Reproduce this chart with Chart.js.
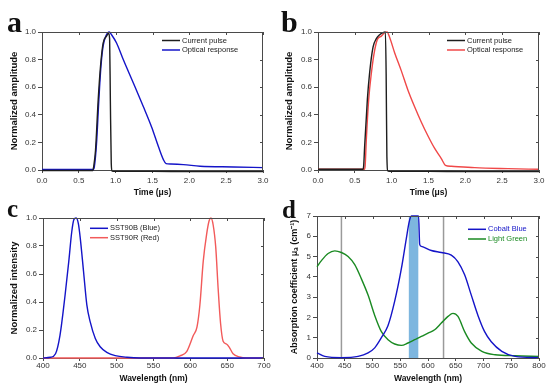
<!DOCTYPE html>
<html>
<head>
<meta charset="utf-8">
<script src="https://cdn.jsdelivr.net/npm/chart.js@4.4.1/dist/chart.umd.min.js"></script>
<style>
  body { margin: 0; background: #fff; }
  #fig { position: relative; width: 550px; height: 390px; overflow: hidden; }
  #fig canvas { position: absolute; }
  .tag { position: absolute; font-family: "Liberation Serif", "DejaVu Serif", serif; font-weight: bold; line-height: 1; color: #111; }
</style>
</head>
<body>
<div id="fig">
  <canvas id="chart-a" width="275" height="200" style="left:0;top:0"></canvas>
  <canvas id="chart-b" width="275" height="200" style="left:275px;top:0"></canvas>
  <canvas id="chart-c" width="275" height="195" style="left:0;top:195px"></canvas>
  <canvas id="chart-d" width="275" height="195" style="left:275px;top:195px"></canvas>
  <div class="tag" style="left:7px;top:7px;font-size:30px">a</div>
  <div class="tag" style="left:281px;top:7px;font-size:30px">b</div>
  <div class="tag" style="left:7px;top:196px;font-size:25px">c</div>
  <div class="tag" style="left:282px;top:197px;font-size:25px">d</div>
</div>
<script>
// panneau a : impulsion de courant / réponse optique (bleu)
const aCurrentT = [0, 0.69, 0.70, 0.726, 0.763, 0.794, 0.83, 0.876, 0.905, 0.918, 0.928, 0.94, 0.95, 1.0, 1.5, 2.0, 2.5, 3.0];
const aCurrentV = [-0.004, -0.004, 0.02, 0.14, 0.51, 0.75, 0.92, 0.97, 0.99, 0.95, 0.5, 0.05, -0.008, -0.01, -0.01, -0.012, -0.012, -0.012];
const aOpticalT = [0, 0.70, 0.71, 0.74, 0.772, 0.80, 0.83, 0.867, 0.912, 0.944, 1.012, 1.103, 1.24, 1.375, 1.489, 1.58, 1.648, 1.684, 1.75, 1.92, 2.147, 2.6, 3.0];
const aOpticalV = [0.004, 0.004, 0.02, 0.19, 0.51, 0.75, 0.9, 0.97, 1.0, 0.98, 0.92, 0.80, 0.63, 0.46, 0.31, 0.17, 0.075, 0.046, 0.043, 0.039, 0.027, 0.022, 0.017];

// panneau b : impulsion de courant / réponse optique (rouge)
const bCurrentT = [0, 0.61, 0.62, 0.633, 0.67, 0.70, 0.747, 0.79, 0.837, 0.882, 0.915, 0.925, 0.935, 0.95, 1.0, 1.5, 2.0, 2.5, 3.0];
const bCurrentV = [0.005, 0.005, 0.03, 0.17, 0.51, 0.70, 0.89, 0.95, 0.98, 0.995, 1.0, 0.7, 0.1, -0.008, -0.01, -0.01, -0.012, -0.012, -0.012];
const bOpticalT = [0, 0.63, 0.64, 0.656, 0.688, 0.724, 0.77, 0.81, 0.86, 0.905, 0.937, 0.973, 1.04, 1.13, 1.22, 1.31, 1.40, 1.49, 1.584, 1.674, 1.73, 1.81, 2.127, 2.58, 3.0];
const bOpticalV = [0.005, 0.005, 0.03, 0.22, 0.51, 0.70, 0.87, 0.95, 0.97, 0.995, 1.0, 0.96, 0.85, 0.72, 0.58, 0.46, 0.35, 0.25, 0.156, 0.083, 0.034, 0.027, 0.017, 0.01, 0.005];
const timeTicks = [0, 0.5, 1.0, 1.5, 2.0, 2.5, 3.0];
const amplitudeTicks = [0, 0.2, 0.4, 0.6, 0.8, 1.0];

// panneau c : spectres d'émission
const cBlueW = [400, 410, 417, 423, 430, 435, 439, 442, 445, 448, 450.5, 455, 459.5, 464, 471, 477.6, 486.6, 498, 514, 532, 600, 700];
const cBlueV = [0, 0.005, 0.03, 0.16, 0.45, 0.69, 0.9, 0.99, 1.0, 0.96, 0.86, 0.62, 0.38, 0.26, 0.14, 0.08, 0.04, 0.017, 0.005, 0, 0, 0];
const cRedW = [400, 577, 586, 595, 604, 609, 613, 617.5, 622, 625.5, 628, 631, 634.5, 637.7, 641, 644.5, 649, 652.5, 658, 667, 676, 700];
const cRedV = [0, 0, 0.015, 0.045, 0.16, 0.22, 0.38, 0.69, 0.88, 0.98, 1.0, 0.95, 0.79, 0.5, 0.25, 0.12, 0.1, 0.08, 0.03, 0.007, 0, 0];
const wavelengthTicksC = [400, 450, 500, 550, 600, 650, 700];

// panneau d : coefficients d'absorption
const dBlueW = [400, 414, 444, 474, 492, 504, 516, 528, 540, 552, 561, 566, 570, 583, 585, 588, 606, 624, 642, 654, 666, 678, 690, 702, 714, 733, 757, 800];
const dBlueV = [0.25, 0.08, 0.02, 0.08, 0.25, 0.5, 1.0, 1.6, 2.8, 4.4, 5.9, 6.7, 7, 7, 5.6, 5.5, 5.3, 5.2, 5.07, 4.74, 4.1, 3.1, 2.1, 1.3, 0.8, 0.33, 0.08, 0.02];
const dGreenW = [400, 408, 420, 432, 444, 456, 468, 480, 492, 504, 516, 528, 540, 552, 564, 576, 588, 600, 612, 624, 636, 645, 654, 666, 678, 697, 721, 757, 800];
const dGreenV = [4.5, 4.8, 5.15, 5.28, 5.2, 5.0, 4.6, 3.9, 3.1, 2.1, 1.3, 0.9, 0.69, 0.62, 0.74, 0.9, 1.06, 1.23, 1.39, 1.72, 2.05, 2.2, 2.05, 1.3, 0.74, 0.33, 0.16, 0.11, 0.08];
const dMarkerW = [444, 628];
const dBandW = [565, 583];
const wavelengthTicksD = [400, 450, 500, 550, 600, 650, 700, 750, 800];
const absorptionTicks = [0, 1, 2, 3, 4, 5, 6, 7];

const FONT = '"Liberation Sans", Arial, sans-serif';
const AXIS = "#4a4a4a";
Chart.defaults.font.family = FONT;
Chart.defaults.font.size = 8;
Chart.defaults.color = "#333";

function pairs(xs, ys) {
    return xs.map((x, i) => ({ x: x, y: ys[i] }));
}

// cadre haut/droite avec graduations vers l'intérieur
const frameTicks = {
    id: "frameTicks",
    afterDraw(chart) {
        const { ctx, chartArea: a, scales } = chart;
        ctx.save();
        ctx.strokeStyle = AXIS;
        ctx.lineWidth = 1;
        ctx.beginPath();
        ctx.moveTo(a.left, a.top + 0.5);
        ctx.lineTo(a.right - 0.5, a.top + 0.5);
        ctx.lineTo(a.right - 0.5, a.bottom);
        scales.x.ticks.forEach((t) => {
            const px = Math.round(scales.x.getPixelForValue(t.value)) + 0.5;
            ctx.moveTo(px, a.top);
            ctx.lineTo(px, a.top + 3);
        });
        scales.y.ticks.forEach((t) => {
            const py = Math.round(scales.y.getPixelForValue(t.value)) + 0.5;
            ctx.moveTo(a.right, py);
            ctx.lineTo(a.right - 3, py);
        });
        ctx.stroke();
        ctx.restore();
    },
};

// petite légende placée dans la zone du graphique
const miniLegend = {
    id: "miniLegend",
    afterDraw(chart, args, opts) {
        const { ctx, chartArea: a } = chart;
        const x0 = opts.fromRight ? a.right - opts.dx : a.left + opts.dx;
        let y = a.top + opts.dy;
        ctx.save();
        ctx.font = "7.5px " + FONT;
        ctx.textBaseline = "middle";
        chart.data.datasets.filter((d) => d.inLegend).forEach((d) => {
            ctx.strokeStyle = d.borderColor;
            ctx.lineWidth = 1.5;
            ctx.beginPath();
            ctx.moveTo(x0, y);
            ctx.lineTo(x0 + 18, y);
            ctx.stroke();
            ctx.fillStyle = opts.colorText ? d.borderColor : "#222";
            ctx.fillText(d.label, x0 + 20, y);
            y += opts.gap;
        });
        ctx.restore();
    },
};

function curve(label, xs, ys, color, order) {
    return {
        label: label,
        data: pairs(xs, ys),
        borderColor: color,
        borderWidth: 1.4,
        pointRadius: 0,
        cubicInterpolationMode: "monotone",
        clip: 4,
        order: order,
        inLegend: true,
    };
}

function makePanel(id, cfg) {
    return new Chart(document.getElementById(id), {
        type: "line",
        data: { datasets: cfg.datasets },
        options: {
            responsive: false,
            animation: false,
            events: [],
            layout: { padding: cfg.padding },
            plugins: {
                legend: { display: false },
                tooltip: { enabled: false },
                miniLegend: cfg.legend,
            },
            scales: {
                x: {
                    type: "linear",
                    min: cfg.xTicks[0],
                    max: cfg.xTicks[cfg.xTicks.length - 1],
                    afterBuildTicks: (s) => { s.ticks = cfg.xTicks.map((v) => ({ value: v })); },
                    ticks: { callback: cfg.xFmt, padding: cfg.xTickPad, maxRotation: 0, autoSkip: false, color: "#333" },
                    grid: { display: true, drawOnChartArea: false, tickLength: 3, tickColor: AXIS },
                    border: { color: AXIS },
                    title: { display: true, text: cfg.xTitle, color: "#111", font: { weight: "bold", size: 8.5 }, padding: { top: 0, bottom: cfg.xTitlePad } },
                    afterFit: (s) => { s.height = cfg.xHeight; },
                },
                y: {
                    type: "linear",
                    min: cfg.yTicks[0],
                    max: cfg.yTicks[cfg.yTicks.length - 1],
                    afterBuildTicks: (s) => { s.ticks = cfg.yTicks.map((v) => ({ value: v })); },
                    ticks: { callback: cfg.yFmt, padding: 2, autoSkip: false, color: "#333" },
                    grid: { display: true, drawOnChartArea: false, tickLength: 4, tickColor: AXIS },
                    border: { color: AXIS },
                    title: { display: true, text: cfg.yTitle, color: "#111", font: { weight: "bold", size: cfg.yTitleSize }, padding: { top: cfg.yTitlePad, bottom: 0 } },
                    afterFit: (s) => { s.width = cfg.yWidth; },
                },
            },
        },
        plugins: [frameTicks, miniLegend],
    });
}

const oneDecimal = (v) => v.toFixed(1);
const integer = (v) => String(v);

makePanel("chart-a", {
    datasets: [
        curve("Current pulse", aCurrentT, aCurrentV, "#1e1e1e", 0),
        curve("Optical response", aOpticalT, aOpticalV, "#1414c8", 1),
    ],
    padding: { top: 32, right: 12, left: 0, bottom: 0 },
    xTicks: timeTicks, yTicks: amplitudeTicks, xFmt: oneDecimal, yFmt: oneDecimal,
    xTitle: "Time (μs)", yTitle: "Normalized amplitude",
    xHeight: 30, yWidth: 42, xTickPad: 3, xTitlePad: 2.5, yTitlePad: 8.3, yTitleSize: 9.5,
    legend: { fromRight: true, dx: 101, dy: 8.5, gap: 9.5, colorText: false },
});

makePanel("chart-b", {
    datasets: [
        curve("Current pulse", bCurrentT, bCurrentV, "#1e1e1e", 0),
        curve("Optical response", bOpticalT, bOpticalV, "#f04848", 1),
    ],
    padding: { top: 32, right: 11, left: 0, bottom: 0 },
    xTicks: timeTicks, yTicks: amplitudeTicks, xFmt: oneDecimal, yFmt: oneDecimal,
    xTitle: "Time (μs)", yTitle: "Normalized amplitude",
    xHeight: 30, yWidth: 43, xTickPad: 3, xTitlePad: 2.5, yTitlePad: 9, yTitleSize: 9.5,
    legend: { fromRight: true, dx: 92, dy: 8.5, gap: 9.5, colorText: false },
});

makePanel("chart-c", {
    datasets: [
        curve("SST90B (Blue)", cBlueW, cBlueV, "#1414c8", 0),
        curve("SST90R (Red)", cRedW, cRedV, "#f25a5a", 1),
    ],
    padding: { top: 23, right: 11, left: 0, bottom: 0 },
    xTicks: wavelengthTicksC, yTicks: amplitudeTicks, xFmt: integer, yFmt: oneDecimal,
    xTitle: "Wavelength (nm)", yTitle: "Normalized intensity",
    xHeight: 32, yWidth: 43, xTickPad: 0, xTitlePad: 6.5, yTitlePad: 8.3, yTitleSize: 9.5,
    legend: { fromRight: false, dx: 47, dy: 10.3, gap: 9.4, colorText: false },
});

const markerSets = dMarkerW.map((w) => ({
    data: [{ x: w, y: 0 }, { x: w, y: 7 }],
    borderColor: "#9a9a9a",
    borderWidth: 1.5,
    pointRadius: 0,
    order: 3,
}));

makePanel("chart-d", {
    datasets: [
        curve("Cobalt Blue", dBlueW, dBlueV, "#1414c8", 0),
        curve("Light Green", dGreenW, dGreenV, "#1a8a22", 1),
        {
            data: dBandW.map((w) => ({ x: w, y: 7 })),
            borderWidth: 0,
            pointRadius: 0,
            fill: "origin",
            backgroundColor: "#7db6df",
            order: 4,
        },
        ...markerSets,
    ],
    padding: { top: 21, right: 11, left: 0, bottom: 0 },
    xTicks: wavelengthTicksD, yTicks: absorptionTicks, xFmt: integer, yFmt: integer,
    xTitle: "Wavelength (nm)", yTitle: "Absorption coefficient μₐ (cm⁻¹)",
    xHeight: 32, yWidth: 42, xTickPad: 0, xTitlePad: 6.5, yTitlePad: 14, yTitleSize: 9,
    legend: { fromRight: true, dx: 71, dy: 13.3, gap: 9.7, colorText: true },
});
</script>
</body>
</html>
